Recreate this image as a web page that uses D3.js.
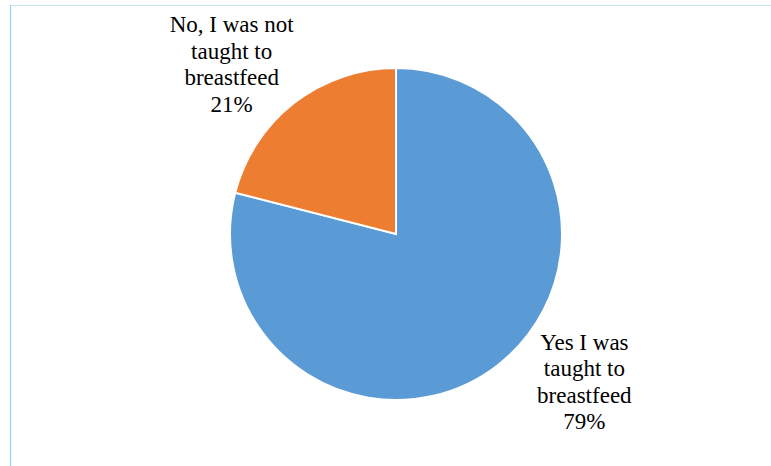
<!DOCTYPE html>
<html>
<head>
<meta charset="utf-8">
<script src="https://cdn.jsdelivr.net/npm/d3@7"></script>
</head>
<body style="margin:0; background:#ffffff">
<svg id="chart" width="771" height="466" style="display:block"></svg>
<script>
// Survey answers
const categories = ["Yes I was taught to breastfeed", "No, I was not taught to breastfeed"];
const labelLines = [["Yes I was", "taught to", "breastfeed"], ["No, I was not", "taught to", "breastfeed"]];
const values = [79, 21];
const colors = ["#5b9bd5", "#ed7d31"];

const W = 771, H = 466;
const cx = 396, cy = 234, radius = 166;
const fontSize = 23, lineHeight = 26.5;

const svg = d3.select("#chart");

// frame lines
svg.append("line").attr("x1", 10).attr("x2", W).attr("y1", 5.5).attr("y2", 5.5)
  .attr("stroke", "#c6e4ee").attr("stroke-width", 1.2);
svg.append("line").attr("x1", 10.5).attr("x2", 10.5).attr("y1", 5).attr("y2", H)
  .attr("stroke", "#96d4e7").attr("stroke-width", 1.2);

const data = categories.map((c, i) => ({ name: c, value: values[i], lines: labelLines[i], color: colors[i] }));

const pie = d3.pie().value(d => d.value).sort(null);
const arcs = pie(data);
const arc = d3.arc().innerRadius(0).outerRadius(radius);

const g = svg.append("g").attr("transform", `translate(${cx},${cy})`);

g.selectAll("path")
  .data(arcs)
  .join("path")
  .attr("d", arc)
  .attr("fill", d => d.data.color)
  .attr("stroke", "#ffffff")
  .attr("stroke-width", 2)
  .attr("stroke-linejoin", "miter");

// outside-end labels, pushed out along each slice's mid angle
const labelOffsets = [
  { dx: 51, dy: -29 },   // Yes
  { dx: -27, dy: 8 }     // No
];
const labelArc = d3.arc().innerRadius(radius * 1.35).outerRadius(radius * 1.35);

arcs.forEach((d, i) => {
  const [x, y] = labelArc.centroid(d);
  const rows = d.data.lines.concat([d3.format(".0f")(d.data.value) + "%"]);
  const total = rows.length * lineHeight;
  const x0 = cx + x + labelOffsets[i].dx;
  const y0 = cy + y + labelOffsets[i].dy - total / 2;
  rows.forEach((r, k) => {
    svg.append("text")
      .attr("x", x0)
      .attr("y", y0 + (k + 1) * lineHeight - 6)
      .attr("text-anchor", "middle")
      .attr("font-size", fontSize)
      .attr("font-family", "Times New Roman")
      .attr("fill", "#000000")
      .text(r);
  });
});
</script>
</body>
</html>
